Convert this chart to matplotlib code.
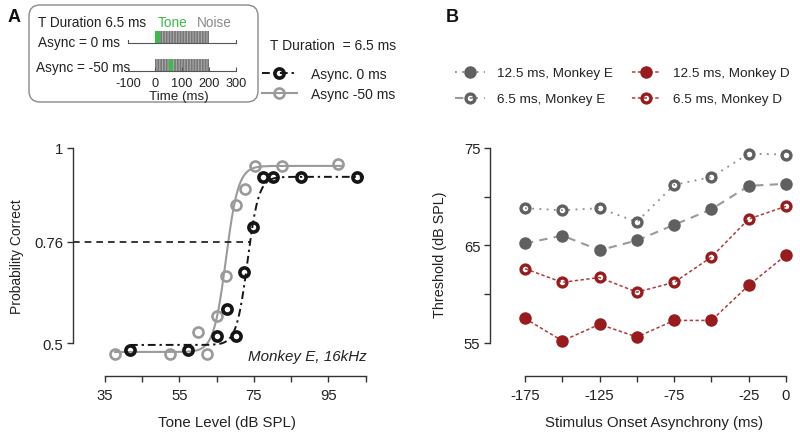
import numpy as np
import matplotlib
matplotlib.use("Agg")
import matplotlib.pyplot as plt
from matplotlib.patches import FancyBboxPatch, Rectangle
from matplotlib.lines import Line2D

plt.rcParams['font.family'] = ['Liberation Sans', 'DejaVu Sans']
plt.rcParams['hatch.linewidth'] = 0.8

# ---------------- data: panel A ----------------
levels_async0 = [41.7, 57.3, 65.1, 67.8, 70.2, 72.4, 74.8, 77.5, 80.2, 87.7, 102.7]
pc_async0 = [0.482, 0.482, 0.518, 0.587, 0.518, 0.682, 0.797, 0.926, 0.926, 0.926, 0.926]
levels_async50 = [37.7, 52.5, 60.0, 62.4, 65.1, 67.5, 70.2, 72.6, 75.3, 82.6, 97.6]
pc_async50 = [0.472, 0.472, 0.528, 0.472, 0.569, 0.672, 0.854, 0.895, 0.954, 0.954, 0.959]
# psychometric fit parameters: lower, upper, midpoint, spread, x-start, x-end
fit_async0 = [0.495, 0.926, 73.3, 1.5, 41.7, 104.5]
fit_async50 = [0.477, 0.954, 67.5, 1.66, 37.7, 99.0]
threshold_pc = 0.76
threshold_level = 74.0
level_ticks = [35, 45, 55, 65, 75, 85, 95, 105]
level_labels = ['35', '', '55', '', '75', '', '95', '']
pc_ticks = [0.5, 0.76, 1.0]
pc_labels = ['0.5', '0.76', '1']

# inset schematic
inset_ticks = [-100, 0, 100, 200, 300]
noise_on, noise_off = 0, 200
tone_onsets = [0, 50]      # async 0 / async -50
tone_width = 18

# ---------------- data: panel B ----------------
soa = [-175, -150, -125, -100, -75, -50, -25, 0]
thr_E_12 = [65.2, 66.0, 64.5, 65.5, 67.1, 68.7, 71.1, 71.3]
thr_E_6 = [68.8, 68.6, 68.8, 67.4, 71.2, 72.0, 74.4, 74.3]
thr_D_12 = [57.5, 55.2, 56.9, 55.6, 57.3, 57.3, 60.9, 64.0]
thr_D_6 = [62.6, 61.2, 61.7, 60.2, 61.2, 63.8, 67.7, 69.0]
soa_ticks = [-175, -150, -125, -100, -75, -50, -25, 0]
soa_labels = ['-175', '', '-125', '', '-75', '', '-25', '0']
thr_ticks = [55, 60, 65, 70, 75]
thr_labels = ['55', '', '65', '', '75']

W, H = 800, 439
fig = plt.figure(figsize=(W / 100, H / 100), dpi=100)

def fax(l, t, r, b):
    return [l / W, (H - b) / H, (r - l) / W, (b - t) / H]

# overlay in pixel coords for decorations
ov = fig.add_axes([0, 0, 1, 1], zorder=-1)
ov.set_xlim(0, W)
ov.set_ylim(H, 0)
ov.axis('off')

BLACK = '#151515'
GRAYA = '#9a9a9a'
SPINE = '#333333'
TXT = '#222222'
FS = 10
TICKFS = 10.7
XLFS = 10.8

def style_axis(ax):
    for s in ['top', 'right']:
        ax.spines[s].set_visible(False)
    for s in ['left', 'bottom']:
        ax.spines[s].set_color(SPINE)
        ax.spines[s].set_linewidth(1.0)
    ax.tick_params(length=4, width=1.0, color=SPINE, labelsize=TICKFS, pad=3, labelcolor=TXT)

# ---------------- panel A ----------------
axA = fig.add_axes(fax(73, 140, 370, 377))
axA.set_xlim(26.4, 106.2)
axA.set_ylim(0.4154, 1.023)
style_axis(axA)
axA.spines['left'].set_bounds(0.5, 1.0)
axA.spines['bottom'].set_bounds(35, 105)
axA.set_xticks(level_ticks)
axA.set_xticklabels(level_labels)
axA.set_yticks(pc_ticks)
axA.set_yticklabels(pc_labels)
axA.tick_params(axis='x', pad=5)

def psy(x, p):
    lo, hi, mid, s = p[:4]
    return lo + (hi - lo) / (1 + np.exp(-(x - mid) / s))

x0 = np.linspace(fit_async0[4], fit_async0[5], 400)
x50 = np.linspace(fit_async50[4], fit_async50[5], 400)
axA.plot(x50, psy(x50, fit_async50), color=GRAYA, lw=1.5, zorder=2)
axA.plot(x0, psy(x0, fit_async0), color=BLACK, lw=1.4, ls=(0, (4, 2, 1.2, 2)), zorder=3)
axA.plot([26.4, threshold_level], [threshold_pc, threshold_pc], color=BLACK, lw=1.2,
         ls=(0, (4, 3)), clip_on=False, zorder=2)
axA.plot(levels_async50, pc_async50, 'o', ms=7.2, mfc='none', mec=GRAYA, mew=1.9, zorder=4)
axA.plot(levels_async0, pc_async0, 'o', ms=6.6, mfc='none', mec=BLACK, mew=2.6, zorder=5)
axA.text(105.2, 0.467, 'Monkey E, 16kHz', style='italic', fontsize=10.9, ha='right', va='center',
         color=TXT)
axA.set_xlabel('Tone Level (dB SPL)', fontsize=XLFS, color=TXT)
axA.xaxis.set_label_coords(0.518, -0.165)
axA.set_ylabel('Probability Correct', fontsize=FS, color=TXT)
axA.yaxis.set_label_coords(-0.165, 0.51)

# legend A
fig.text(270 / W, 1 - 46 / H, 'T Duration  = 6.5 ms', fontsize=FS, ha='left', va='center',
         color=TXT)
hA0 = Line2D([], [], color=BLACK, lw=1.4, ls=(0, (4, 2, 1.2, 2)), marker='o', ms=6.6,
             mfc='none', mec=BLACK, mew=2.6)
hA50 = Line2D([], [], color=GRAYA, lw=1.5, marker='o', ms=7.2, mfc='none', mec=GRAYA, mew=1.9)
legA = fig.legend([hA0, hA50], ['Async. 0 ms', 'Async -50 ms'], loc='upper left',
                  bbox_to_anchor=(262 / W, 1 - 68 / H), frameon=False, fontsize=FS,
                  borderpad=0, borderaxespad=0, handlelength=2.5, handletextpad=1.0,
                  labelspacing=0.42)
for t in legA.get_texts():
    t.set_color(TXT)

# inset box
ov.add_patch(FancyBboxPatch((29, 6), 229, 97, boxstyle='round,pad=0,rounding_size=11',
                            fc='white', ec='#8a8a8a', lw=1.0))
ov.text(38, 23, 'T Duration 6.5 ms', fontsize=9.8, va='center', ha='left', color=TXT)
ov.text(158, 23, 'Tone', fontsize=9.8, va='center', ha='left', color='#3dbb4a')
ov.text(197, 23, 'Noise', fontsize=9.8, va='center', ha='left', color='#8a8a8a')
ov.text(38, 43, 'Async = 0 ms', fontsize=9.8, va='center', ha='left', color=TXT)
ov.text(36, 68, 'Async = -50 ms', fontsize=9.8, va='center', ha='left', color=TXT)

axI = fig.add_axes(fax(128, 30, 236, 72))
axI.set_xlim(-100, 300)
axI.set_ylim(0, 42)
for s in ['top', 'right', 'left']:
    axI.spines[s].set_visible(False)
axI.spines['bottom'].set_color('#555555')
axI.spines['bottom'].set_linewidth(0.8)
axI.set_yticks([])
axI.set_xticks(inset_ticks)
axI.set_xticklabels([str(v) for v in inset_ticks])
axI.tick_params(axis='x', direction='in', length=3, width=0.8, color='#555555',
                labelsize=9.2, pad=4, labelcolor=TXT)
axI.patch.set_alpha(0)
row_base = [28, 0]
for base, onset in zip(row_base, tone_onsets):
    if base > 0:
        axI.plot([-100, 300], [base, base], color='#555555', lw=0.8, clip_on=False)
        axI.plot([-100, -100], [base, base + 3], color='#555555', lw=0.8, clip_on=False)
        axI.plot([300, 300], [base, base + 3], color='#555555', lw=0.8, clip_on=False)
    axI.add_patch(Rectangle((noise_on, base), noise_off - noise_on, 12, fc='#777777',
                            ec='#aaaaaa', hatch='||||||', lw=0, clip_on=False))
    axI.add_patch(Rectangle((onset, base), tone_width, 12, fc='#3dbb4a', ec='none',
                            clip_on=False))
axI.set_xlabel('Time (ms)', fontsize=9.6, color=TXT)
axI.xaxis.set_label_coords(0.47, -0.45)

# ---------------- panel B ----------------
GRAYB = '#606060'
GRAYL = '#8a8a8a'
RED = '#981b1e'
REDL = '#b2393d'
axB = fig.add_axes(fax(490, 140, 795, 377))
axB.set_xlim(-198.5, 6)
axB.set_ylim(51.6, 75.9)
style_axis(axB)
axB.spines['left'].set_bounds(55, 75)
axB.spines['bottom'].set_bounds(-175, 0)
axB.set_xticks(soa_ticks)
axB.set_xticklabels(soa_labels)
axB.set_yticks(thr_ticks)
axB.set_yticklabels(thr_labels)
axB.tick_params(axis='x', pad=5)

MS_F, MS_O, MEW = 9.0, 6.4, 2.4
axB.plot(soa, thr_E_6, color=GRAYL, lw=1.3, ls=(0, (1, 3)), marker='o', ms=MS_O,
         mfc='none', mec=GRAYB, mew=MEW)
axB.plot(soa, thr_E_12, color='#9a9a9a', lw=1.5, ls=(0, (4, 3)), marker='o', ms=MS_F,
         mfc=GRAYB, mec=GRAYB, mew=0)
axB.plot(soa, thr_D_6, color=REDL, lw=1.1, ls=(0, (2.2, 1.6)), marker='o', ms=MS_O,
         mfc='none', mec=RED, mew=MEW)
axB.plot(soa, thr_D_12, color=REDL, lw=1.1, ls=(0, (2.2, 1.6)), marker='o', ms=MS_F,
         mfc=RED, mec=RED, mew=0)
axB.set_xlabel('Stimulus Onset Asynchrony (ms)', fontsize=XLFS, color=TXT)
axB.xaxis.set_label_coords(0.538, -0.165)
axB.set_ylabel('Threshold (dB SPL)', fontsize=10.4, color=TXT)
axB.yaxis.set_label_coords(-0.141, 0.515)

hB1 = Line2D([], [], color=GRAYL, lw=1.3, ls=(0, (1, 3)), marker='o', ms=MS_F, mfc=GRAYB, mec=GRAYB, mew=0)
hB2 = Line2D([], [], color='#9a9a9a', lw=1.5, ls=(0, (4, 3)), marker='o', ms=MS_O, mfc='none', mec=GRAYB, mew=MEW)
hB3 = Line2D([], [], color=REDL, lw=1.1, ls=(0, (2.2, 1.6)), marker='o', ms=MS_F, mfc=RED, mec=RED, mew=0)
hB4 = Line2D([], [], color=REDL, lw=1.1, ls=(0, (2.2, 1.6)), marker='o', ms=MS_O, mfc='none', mec=RED, mew=MEW)
legB = fig.legend([hB1, hB2, hB3, hB4],
                  ['12.5 ms, Monkey E', '6.5 ms, Monkey E', '12.5 ms, Monkey D', '6.5 ms, Monkey D'],
                  ncol=2, loc='upper left', bbox_to_anchor=(455 / W, 1 - 68 / H), frameon=False,
                  fontsize=9.7, borderpad=0, borderaxespad=0, handlelength=2.2, handletextpad=0.9,
                  labelspacing=1.0, columnspacing=1.4)
for t in legB.get_texts():
    t.set_color(TXT)

# panel labels
ov.text(14, 18, 'A', fontsize=13, fontweight='bold', ha='center', va='center', color='#111111')
ov.text(452, 18, 'B', fontsize=13, fontweight='bold', ha='center', va='center', color='#111111')

fig.savefig('out.png', dpi=100)
